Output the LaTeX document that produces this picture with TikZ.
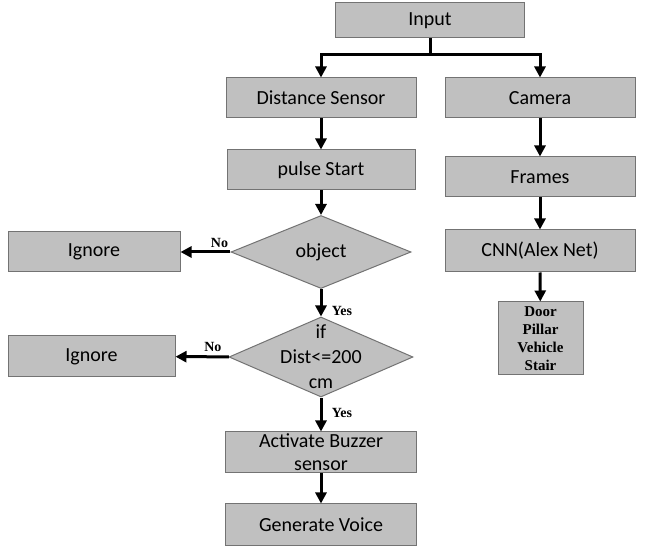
\documentclass[tikz,border=0pt]{standalone}
\usepackage{fontspec}
\setmainfont{Carlito}
\newfontfamily\serifbold{Liberation Serif}
\usetikzlibrary{shapes.geometric,arrows.meta}

\definecolor{boxgray}{RGB}{192,192,192}
\definecolor{boxedge}{RGB}{115,115,115}

\tikzset{
  stepbox/.style={draw=boxedge, fill=boxgray, line width=1pt, minimum width=190pt,
    minimum height=40pt, inner sep=1pt, align=center, font=\fontsize{20}{23}\selectfont},
  decision/.style={diamond, draw=boxedge, fill=boxgray, line width=1pt, inner sep=0pt},
  dtext/.style={align=center, font=\fontsize{20}{25}\selectfont},
  flow/.style={line width=3pt, -{Triangle[length=11pt,width=11pt]}},
  answer/.style={font=\serifbold\bfseries\fontsize{14}{16}\selectfont}
}

\begin{document}
\begin{tikzpicture}[x=1pt, y=-1pt]
    \useasboundingbox (0,0) rectangle (649,548);

    % Top and the two branches
    \node[stepbox, minimum width=189pt, minimum height=35pt] (input) at (430,20.5) {Input};
    \node[stepbox] (dist) at (321,98) {Distance Sensor};
    \node[stepbox] (camera) at (540,98) {Camera};
    \coordinate (split) at (430,55);

    % Left column
    \node[stepbox, minimum width=188pt] (pulse) at (321,170) {pulse Start};
    \node[decision, minimum width=180pt, minimum height=73pt] (object) at (321,252) {};
    \node[dtext] (objecttext) at (object.center) {object};
    \node[decision, minimum width=184pt, minimum height=80pt] (ifdist) at (321,357) {};
    \node[dtext] (iftext) at (ifdist.center) {if\\Dist<=200\\cm};
    \node[stepbox, minimum width=191pt, minimum height=41pt, inner sep=0pt] (buzzer) at (321,452.5) {Activate Buzzer\\sensor};
    \node[stepbox, minimum width=191pt, minimum height=41pt] (voice) at (321,524.5) {Generate Voice};

    % Ignore boxes
    \node[stepbox, minimum width=172pt] (ignoreA) at (94,252) {Ignore};
    \node[stepbox, minimum width=167pt, minimum height=41pt] (ignoreB) at (91.5,356.5) {Ignore};

    % Right column
    \node[stepbox] (frames) at (540,177) {Frames};
    \node[stepbox, minimum height=42pt] (cnn) at (540,251) {CNN(Alex Net)};
    \node[stepbox, minimum width=85pt, minimum height=73pt, inner sep=0pt,
      font=\serifbold\bfseries\fontsize{15}{18}\selectfont] (classes) at (540.5,338.5)
      {Door\\Pillar\\Vehicle\\Stair};

    % Connectors
    \draw[line width=3pt] (input) -- (split);
    \draw[flow] (split) -| (dist);
    \draw[flow] (split) -| (camera);
    \draw[flow] (dist) -- (pulse);
    \draw[flow] (pulse) -- (object);
    \draw[flow] (object) -- node[answer, pos=0.8, right=6pt] (yesA) {Yes} (ifdist);
    \draw[flow] (ifdist) -- node[answer, pos=0.45, right=6pt] (yesB) {Yes} (buzzer);
    \draw[flow] (buzzer) -- (voice);
    \draw[flow] (object) -- node[answer, pos=0.22, above=0pt] (noA) {No} (ignoreA);
    \draw[flow] (ifdist) -- node[answer, pos=0.3, above=0pt] (noB) {No} (ignoreB);
    \draw[flow] (camera) -- (frames);
    \draw[flow] (frames) -- (cnn);
    \draw[flow] (cnn) -- (classes);
\end{tikzpicture}
\end{document}
